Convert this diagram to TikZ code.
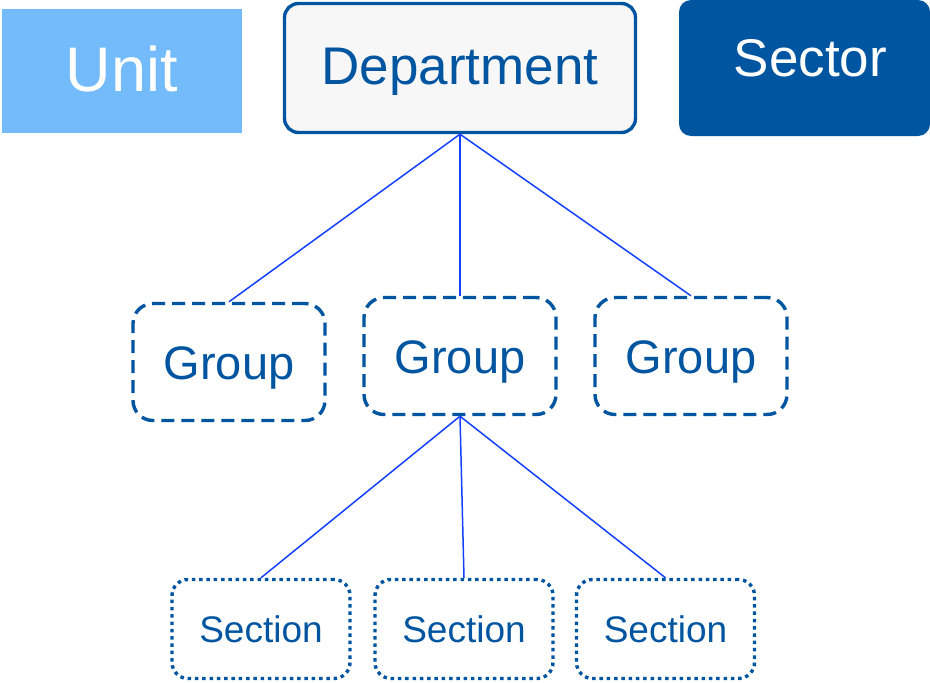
\documentclass[tikz,border=0pt]{standalone}
\usepackage{fontspec}
\setmainfont{Liberation Sans}
\usetikzlibrary{positioning}

\definecolor{deepblue}{RGB}{0,85,160}
\definecolor{skyblue}{RGB}{116,187,251}
\definecolor{paper}{RGB}{247,247,247}
\definecolor{wireblue}{RGB}{20,65,255}

\tikzset{
    box/.style={inner sep=0pt, rounded corners=14pt},
    groupbox/.style={box, draw=deepblue, line width=3.4pt, dash pattern=on 13pt off 7pt,
        rounded corners=20pt, minimum width=192pt, minimum height=117pt,
        text=deepblue, text height=45pt, font=\fontsize{47}{56}\selectfont},
    sectionbox/.style={box, draw=deepblue, line width=3.4pt, dash pattern=on 3.5pt off 3.8pt,
        rounded corners=16pt, minimum width=178pt, minimum height=99pt,
        text=deepblue, font=\fontsize{37}{44}\selectfont},
    wire/.style={draw=wireblue, line width=1.5pt}
}

\begin{document}
\begin{tikzpicture}[x=1pt,y=-1pt]
    \useasboundingbox (0,0) rectangle (930,683);

    % Top row
    \node[box, rounded corners=0pt, fill=skyblue, minimum width=240pt, minimum height=124pt,
        text=white, text depth=5pt, font=\fontsize{63}{70}\selectfont] (unit) at (122,71) {Unit};
    \node[box, draw=deepblue, line width=3.4pt, fill=paper, minimum width=351pt, minimum height=129pt,
        text=deepblue, text height=43pt, font=\fontsize{53}{62}\selectfont] (dept) at (460,68) {Department};
    \node[box, rounded corners=12pt, fill=deepblue, minimum width=251pt, minimum height=136pt,
        text=white, text depth=21pt, font=\fontsize{53}{60}\selectfont] (sector) at (804.5,68) {\hspace{12pt}Sector};

    % Groups
    \node[groupbox] (grpA) at (229,362) {Group};
    \node[groupbox] (grpB) at (460,356) {Group};
    \node[groupbox] (grpC) at (691,356) {Group};

    % Sections
    \node[sectionbox] (secA) at (261,629) {Section};
    \node[sectionbox] (secB) at (464,629) {Section};
    \node[sectionbox] (secC) at (665.5,629) {Section};

    % Links
    \foreach \g in {grpA,grpB,grpC}
        \draw[wire] (dept.south) -- (\g.north);
    \foreach \s in {secA,secB,secC}
        \draw[wire] (grpB.south) -- (\s.north);
\end{tikzpicture}
\end{document}
